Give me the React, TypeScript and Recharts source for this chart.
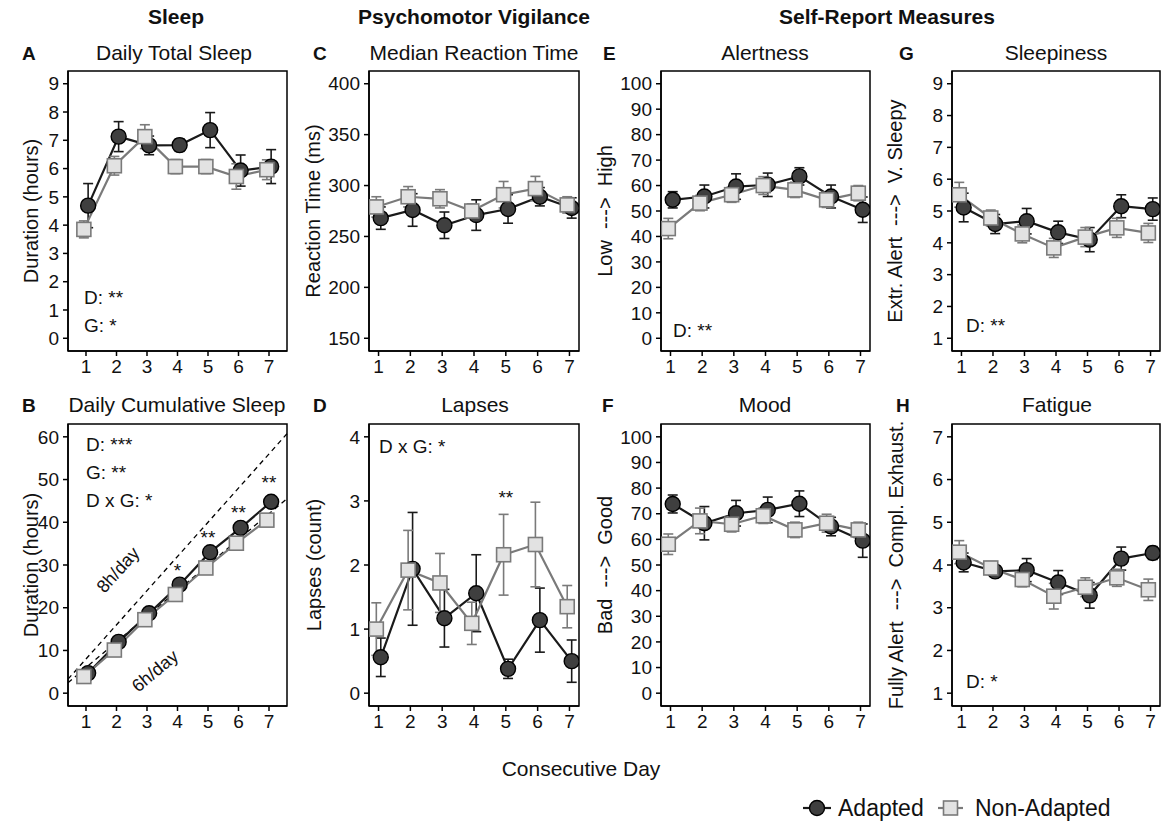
import React from "react";
import {
  LineChart, Line, XAxis, YAxis, ErrorBar, ReferenceArea, ReferenceLine, ReferenceDot,
} from "recharts";

const FONT = '"Liberation Sans", Arial, Helvetica, sans-serif';

const DAYS = [1, 2, 3, 4, 5, 6, 7];

// A - daily total sleep (hours)
const totalSleepAdapted = [4.69, 7.13, 6.82, 6.83, 7.36, 5.93, 6.07];
const totalSleepAdaptedSE = [0.78, 0.53, 0.33, 0.22, 0.62, 0.55, 0.6];
const totalSleepNonAdapted = [3.85, 6.1, 7.13, 6.07, 6.07, 5.72, 5.96];
const totalSleepNonAdaptedSE = [0.3, 0.33, 0.42, 0.25, 0.25, 0.45, 0.35];

// B - cumulative sleep (hours)
const cumSleepAdapted = [4.7, 12.0, 18.7, 25.4, 33.0, 38.7, 44.8];
const cumSleepNonAdapted = [3.9, 10.1, 17.2, 23.1, 29.3, 35.1, 40.5];
const cumSigDays = [4, 5, 6, 7];
const cumSigMarks = ["*", "**", "**", "**"];
const cumSigAt = [28.8, 36.5, 42.4, 49.4];
const sleepRates = [8, 6];

// C - median reaction time (ms)
const rtAdapted = [268, 276, 261, 271, 277, 289, 278];
const rtAdaptedSE = [11, 16, 13, 15, 14, 9, 10];
const rtNonAdapted = [279, 289, 287, 275, 291, 297, 281];
const rtNonAdaptedSE = [10, 10, 9, 7, 13, 12, 8];

// D - lapses (count)
const lapsesAdapted = [0.56, 1.94, 1.17, 1.56, 0.38, 1.14, 0.5];
const lapsesAdaptedSE = [0.3, 0.88, 0.45, 0.6, 0.15, 0.5, 0.33];
const lapsesNonAdapted = [1.0, 1.92, 1.72, 1.09, 2.16, 2.32, 1.35];
const lapsesNonAdaptedSE = [0.41, 0.62, 0.46, 0.33, 0.63, 0.66, 0.33];
const lapsesSigDays = [5];
const lapsesSigMarks = ["**"];
const lapsesSigAt = [3.06];

// E - alertness
const alertAdapted = [54.4, 55.7, 59.6, 60.3, 63.6, 55.7, 50.5];
const alertAdaptedSE = [3.2, 4.5, 5, 4.6, 3.4, 4.5, 5];
const alertNonAdapted = [43.1, 53.1, 56.4, 60, 58.3, 54.4, 57];
const alertNonAdaptedSE = [4, 3, 3, 3.5, 3, 3, 3];

// F - mood
const moodAdapted = [73.8, 66.3, 70.2, 71.5, 73.9, 65, 59.5];
const moodAdaptedSE = [3.5, 6.5, 5, 5, 5, 3.6, 6.5];
const moodNonAdapted = [58.1, 67.2, 65.9, 69.2, 63.7, 66.3, 63.7];
const moodNonAdaptedSE = [4, 5, 3, 3, 3, 3.5, 3];

// G - sleepiness
const sleepyAdapted = [5.11, 4.59, 4.68, 4.33, 4.1, 5.15, 5.06];
const sleepyAdaptedSE = [0.45, 0.3, 0.4, 0.35, 0.38, 0.36, 0.35];
const sleepyNonAdapted = [5.51, 4.78, 4.28, 3.84, 4.18, 4.47, 4.31];
const sleepyNonAdaptedSE = [0.39, 0.25, 0.28, 0.3, 0.3, 0.3, 0.3];

// H - fatigue
const fatigueAdapted = [4.06, 3.85, 3.88, 3.59, 3.29, 4.15, 4.28];
const fatigueAdaptedSE = [0.22, 0.12, 0.27, 0.28, 0.3, 0.27, 0.15];
const fatigueNonAdapted = [4.3, 3.93, 3.66, 3.27, 3.48, 3.7, 3.42];
const fatigueNonAdaptedSE = [0.27, 0.15, 0.17, 0.3, 0.22, 0.2, 0.25];

// tick labels
const ticksHours = [0, 1, 2, 3, 4, 5, 6, 7, 8, 9];
const ticksCumHours = [0, 10, 20, 30, 40, 50, 60];
const ticksRT = [150, 200, 250, 300, 350, 400];
const ticksLapses = [0, 1, 2, 3, 4];
const ticksVAS = [0, 10, 20, 30, 40, 50, 60, 70, 80, 90, 100];
const ticksKSS = [1, 2, 3, 4, 5, 6, 7, 8, 9];
const ticksSPS = [1, 2, 3, 4, 5, 6, 7];

const DODGE = 0.07;
const AXIS_W = 70;
const AXIS_H = 40;
const PAD = 12;

const ADAPT_LINE = "#1a1a1a";
const ADAPT_FILL = "#3f3f3f";
const NON_LINE = "#7a7a7a";
const NON_FILL = "#e2e2e2";

const circleDot = (props: any) => {
  const { cx, cy, index } = props;
  if (cx == null || cy == null) return <g key={`c${index}`} />;
  return <circle key={`c${index}`} cx={cx} cy={cy} r={7.5} fill={ADAPT_FILL} stroke="#000" strokeWidth={1.4} />;
};

const squareDot = (props: any) => {
  const { cx, cy, index } = props;
  if (cx == null || cy == null) return <g key={`s${index}`} />;
  return <rect key={`s${index}`} x={cx - 7} y={cy - 7} width={14} height={14} fill={NON_FILL} stroke={NON_LINE} strokeWidth={1.6} />;
};

type PanelDef = {
  id: string;
  box: number[];
  xDomain: number[];
  yDomain: number[];
  yTicks: number[];
  adapted: number[];
  adaptedSE?: number[];
  nonAdapted: number[];
  nonAdaptedSE?: number[];
  rates?: number[];
  sigDays?: number[];
  sigMarks?: string[];
  sigAt?: number[];
};

const panels: PanelDef[] = [
  { id: "A", box: [68, 71, 287, 351], xDomain: [0.41, 7.59], yDomain: [-0.45, 9.45], yTicks: ticksHours,
    adapted: totalSleepAdapted, adaptedSE: totalSleepAdaptedSE, nonAdapted: totalSleepNonAdapted, nonAdaptedSE: totalSleepNonAdaptedSE },
  { id: "B", box: [68, 424, 287, 706], xDomain: [0.41, 7.59], yDomain: [-3, 63], yTicks: ticksCumHours,
    adapted: cumSleepAdapted, nonAdapted: cumSleepNonAdapted, rates: sleepRates,
    sigDays: cumSigDays, sigMarks: cumSigMarks, sigAt: cumSigAt },
  { id: "C", box: [369, 71, 579, 351], xDomain: [0.7, 7.3], yDomain: [137.5, 412.5], yTicks: ticksRT,
    adapted: rtAdapted, adaptedSE: rtAdaptedSE, nonAdapted: rtNonAdapted, nonAdaptedSE: rtNonAdaptedSE },
  { id: "D", box: [369, 424, 579, 706], xDomain: [0.7, 7.3], yDomain: [-0.2, 4.2], yTicks: ticksLapses,
    adapted: lapsesAdapted, adaptedSE: lapsesAdaptedSE, nonAdapted: lapsesNonAdapted, nonAdaptedSE: lapsesNonAdaptedSE,
    sigDays: lapsesSigDays, sigMarks: lapsesSigMarks, sigAt: lapsesSigAt },
  { id: "E", box: [661, 71, 870, 351], xDomain: [0.7, 7.3], yDomain: [-5, 105], yTicks: ticksVAS,
    adapted: alertAdapted, adaptedSE: alertAdaptedSE, nonAdapted: alertNonAdapted, nonAdaptedSE: alertNonAdaptedSE },
  { id: "F", box: [661, 424, 870, 706], xDomain: [0.7, 7.3], yDomain: [-5, 105], yTicks: ticksVAS,
    adapted: moodAdapted, adaptedSE: moodAdaptedSE, nonAdapted: moodNonAdapted, nonAdaptedSE: moodNonAdaptedSE },
  { id: "G", box: [952, 71, 1160, 351], xDomain: [0.7, 7.3], yDomain: [0.6, 9.4], yTicks: ticksKSS,
    adapted: sleepyAdapted, adaptedSE: sleepyAdaptedSE, nonAdapted: sleepyNonAdapted, nonAdaptedSE: sleepyNonAdaptedSE },
  { id: "H", box: [952, 424, 1160, 706], xDomain: [0.7, 7.3], yDomain: [0.7, 7.3], yTicks: ticksSPS,
    adapted: fatigueAdapted, adaptedSE: fatigueAdaptedSE, nonAdapted: fatigueNonAdapted, nonAdaptedSE: fatigueNonAdaptedSE },
];

const tickStyle = { fontSize: 19, fill: "#111", fontFamily: FONT };

function Panel({ p }: { p: PanelDef }) {
  const [l, t, r, b] = p.box;
  const w = r - l;
  const h = b - t;
  const dataA = DAYS.map((d, i) => ({ x: d + DODGE, y: p.adapted[i], se: p.adaptedSE ? p.adaptedSE[i] : 0 }));
  const dataN = DAYS.map((d, i) => ({ x: d - DODGE, y: p.nonAdapted[i], se: p.nonAdaptedSE ? p.nonAdaptedSE[i] : 0 }));
  const [x0, x1] = p.xDomain;
  return (
    <div style={{ position: "absolute", left: l - AXIS_W, top: t - PAD }}>
      <LineChart width={w + AXIS_W + PAD} height={h + PAD + AXIS_H} margin={{ top: PAD, right: PAD, bottom: 0, left: 0 }}>
        <XAxis type="number" dataKey="x" domain={p.xDomain} ticks={DAYS} allowDataOverflow interval={0}
          height={AXIS_H} tickSize={5} tickMargin={4} tick={tickStyle}
          axisLine={{ stroke: "#000", strokeWidth: 1.5 }} tickLine={{ stroke: "#000", strokeWidth: 1.5 }} />
        <YAxis type="number" domain={p.yDomain} ticks={p.yTicks} allowDataOverflow interval={0}
          width={AXIS_W} tickSize={5} tickMargin={4} tick={tickStyle}
          axisLine={{ stroke: "#000", strokeWidth: 1.5 }} tickLine={{ stroke: "#000", strokeWidth: 1.5 }} />
        <ReferenceArea x1={x0} x2={x1} y1={p.yDomain[0]} y2={p.yDomain[1]} fill="none" fillOpacity={0}
          stroke="#000" strokeWidth={1.5} ifOverflow="visible" />
        {p.rates && p.rates.map((rate) => (
          <ReferenceLine key={`r${rate}`} segment={[{ x: x0, y: rate * x0 }, { x: x1, y: rate * x1 }]}
            stroke="#000" strokeWidth={1.3} strokeDasharray="5 4" ifOverflow="visible" />
        ))}
        <Line data={dataA} dataKey="y" type="linear" stroke={ADAPT_LINE} strokeWidth={2.2} dot={false}
          activeDot={false} isAnimationActive={false}>
          {p.adaptedSE && <ErrorBar dataKey="se" width={5} stroke={ADAPT_LINE} strokeWidth={1.6} direction="y" />}
        </Line>
        <Line data={dataN} dataKey="y" type="linear" stroke={NON_LINE} strokeWidth={2.2} dot={false}
          activeDot={false} isAnimationActive={false}>
          {p.nonAdaptedSE && <ErrorBar dataKey="se" width={5} stroke={NON_LINE} strokeWidth={1.6} direction="y" />}
        </Line>
        <Line data={dataA} dataKey="y" stroke="none" dot={circleDot} activeDot={false} isAnimationActive={false} />
        <Line data={dataN} dataKey="y" stroke="none" dot={squareDot} activeDot={false} isAnimationActive={false} />
        {p.sigDays && p.sigDays.map((d, i) => (
          <ReferenceDot key={`sig${d}`} x={d} y={p.sigAt![i]} r={1} fill="none" stroke="none" ifOverflow="visible"
            label={{ value: p.sigMarks![i], position: "center", fontSize: 19, fill: "#111", fontFamily: FONT }} />
        ))}
      </LineChart>
    </div>
  );
}

type TextSpec = { s: string; x: number; y: number; size: number; bold?: boolean; anchor?: string; rotate?: number };

const texts: TextSpec[] = [
  { s: "Sleep", x: 176, y: 24, size: 21, bold: true, anchor: "middle" },
  { s: "Psychomotor Vigilance", x: 474, y: 24, size: 21, bold: true, anchor: "middle" },
  { s: "Self-Report Measures", x: 887, y: 24, size: 21, bold: true, anchor: "middle" },
  { s: "A", x: 22, y: 60, size: 19, bold: true },
  { s: "C", x: 313, y: 60, size: 19, bold: true },
  { s: "E", x: 603, y: 60, size: 19, bold: true },
  { s: "G", x: 899, y: 60, size: 19, bold: true },
  { s: "B", x: 22, y: 412, size: 19, bold: true },
  { s: "D", x: 313, y: 412, size: 19, bold: true },
  { s: "F", x: 602, y: 412, size: 19, bold: true },
  { s: "H", x: 896, y: 412, size: 19, bold: true },
  { s: "Daily Total Sleep", x: 174, y: 60, size: 21, anchor: "middle" },
  { s: "Median Reaction Time", x: 474, y: 60, size: 21, anchor: "middle" },
  { s: "Alertness", x: 765, y: 60, size: 21, anchor: "middle" },
  { s: "Sleepiness", x: 1056, y: 60, size: 21, anchor: "middle" },
  { s: "Daily Cumulative Sleep", x: 177, y: 412, size: 21, anchor: "middle" },
  { s: "Lapses", x: 475, y: 412, size: 21, anchor: "middle" },
  { s: "Mood", x: 765, y: 412, size: 21, anchor: "middle" },
  { s: "Fatigue", x: 1057, y: 412, size: 21, anchor: "middle" },
  { s: "D: **", x: 84, y: 304, size: 19 },
  { s: "G: *", x: 84, y: 332, size: 19 },
  { s: "D: ***", x: 86, y: 451, size: 19 },
  { s: "G: **", x: 86, y: 479, size: 19 },
  { s: "D x G: *", x: 86, y: 507, size: 19 },
  { s: "D x G: *", x: 379, y: 453, size: 19 },
  { s: "D: **", x: 673, y: 337, size: 19 },
  { s: "D: **", x: 966, y: 332, size: 19 },
  { s: "D: *", x: 966, y: 688, size: 19 },
  { s: "Consecutive Day", x: 581, y: 776, size: 21, anchor: "middle" },
];

const yTitles: TextSpec[] = [
  { s: "Duration (hours)", x: 31, y: 211, size: 20 },
  { s: "Reaction Time (ms)", x: 313, y: 211, size: 20 },
  { s: "Low  --->  High", x: 605, y: 211, size: 20 },
  { s: "Extr. Alert  --->  V. Sleepy", x: 895, y: 211, size: 20 },
  { s: "Duration (hours)", x: 31, y: 565, size: 20 },
  { s: "Lapses (count)", x: 314, y: 565, size: 20 },
  { s: "Bad  --->  Good", x: 605, y: 565, size: 20 },
  { s: "Fully Alert  --->  Compl. Exhaust.", x: 896, y: 565, size: 20 },
];

const slopeLabels: TextSpec[] = [
  { s: "8h/day", x: 118, y: 570, size: 18, rotate: -48 },
  { s: "6h/day", x: 155, y: 671, size: 18, rotate: -40 },
];

export default function App() {
  return (
    <div style={{ position: "absolute", left: 0, top: 0, width: 1162, height: 822, overflow: "hidden", background: "#fff", fontFamily: FONT }}>
      {panels.map((p) => <Panel key={p.id} p={p} />)}
      <svg width={1162} height={822} style={{ position: "absolute", left: 0, top: 0, pointerEvents: "none" }}>
        {texts.map((t, i) => (
          <text key={`t${i}`} x={t.x} y={t.y} fontSize={t.size} fontWeight={t.bold ? "bold" : "normal"}
            textAnchor={t.anchor || "start"} fill="#111" fontFamily={FONT} style={{ whiteSpace: "pre" }}>{t.s}</text>
        ))}
        {yTitles.map((t, i) => (
          <text key={`y${i}`} transform={`translate(${t.x},${t.y}) rotate(-90)`} fontSize={t.size}
            textAnchor="middle" dominantBaseline="central" fill="#111" fontFamily={FONT} style={{ whiteSpace: "pre" }}>{t.s}</text>
        ))}
        {slopeLabels.map((t, i) => (
          <text key={`l${i}`} transform={`translate(${t.x},${t.y}) rotate(${t.rotate})`} fontSize={t.size}
            textAnchor="middle" dominantBaseline="central" fill="#111" fontFamily={FONT}>{t.s}</text>
        ))}
        {/* legend */}
        <line x1={803} y1={808} x2={831} y2={808} stroke={ADAPT_LINE} strokeWidth={2.2} />
        <circle cx={817} cy={808} r={7.5} fill={ADAPT_FILL} stroke="#000" strokeWidth={1.4} />
        <text x={838} y={816} fontSize={23} fill="#111" fontFamily={FONT}>Adapted</text>
        <line x1={938} y1={808} x2={963} y2={808} stroke={NON_LINE} strokeWidth={2.2} />
        <rect x={943.5} y={801} width={14} height={14} fill={NON_FILL} stroke={NON_LINE} strokeWidth={1.6} />
        <text x={975} y={816} fontSize={23} fill="#111" fontFamily={FONT}>Non-Adapted</text>
      </svg>
    </div>
  );
}
